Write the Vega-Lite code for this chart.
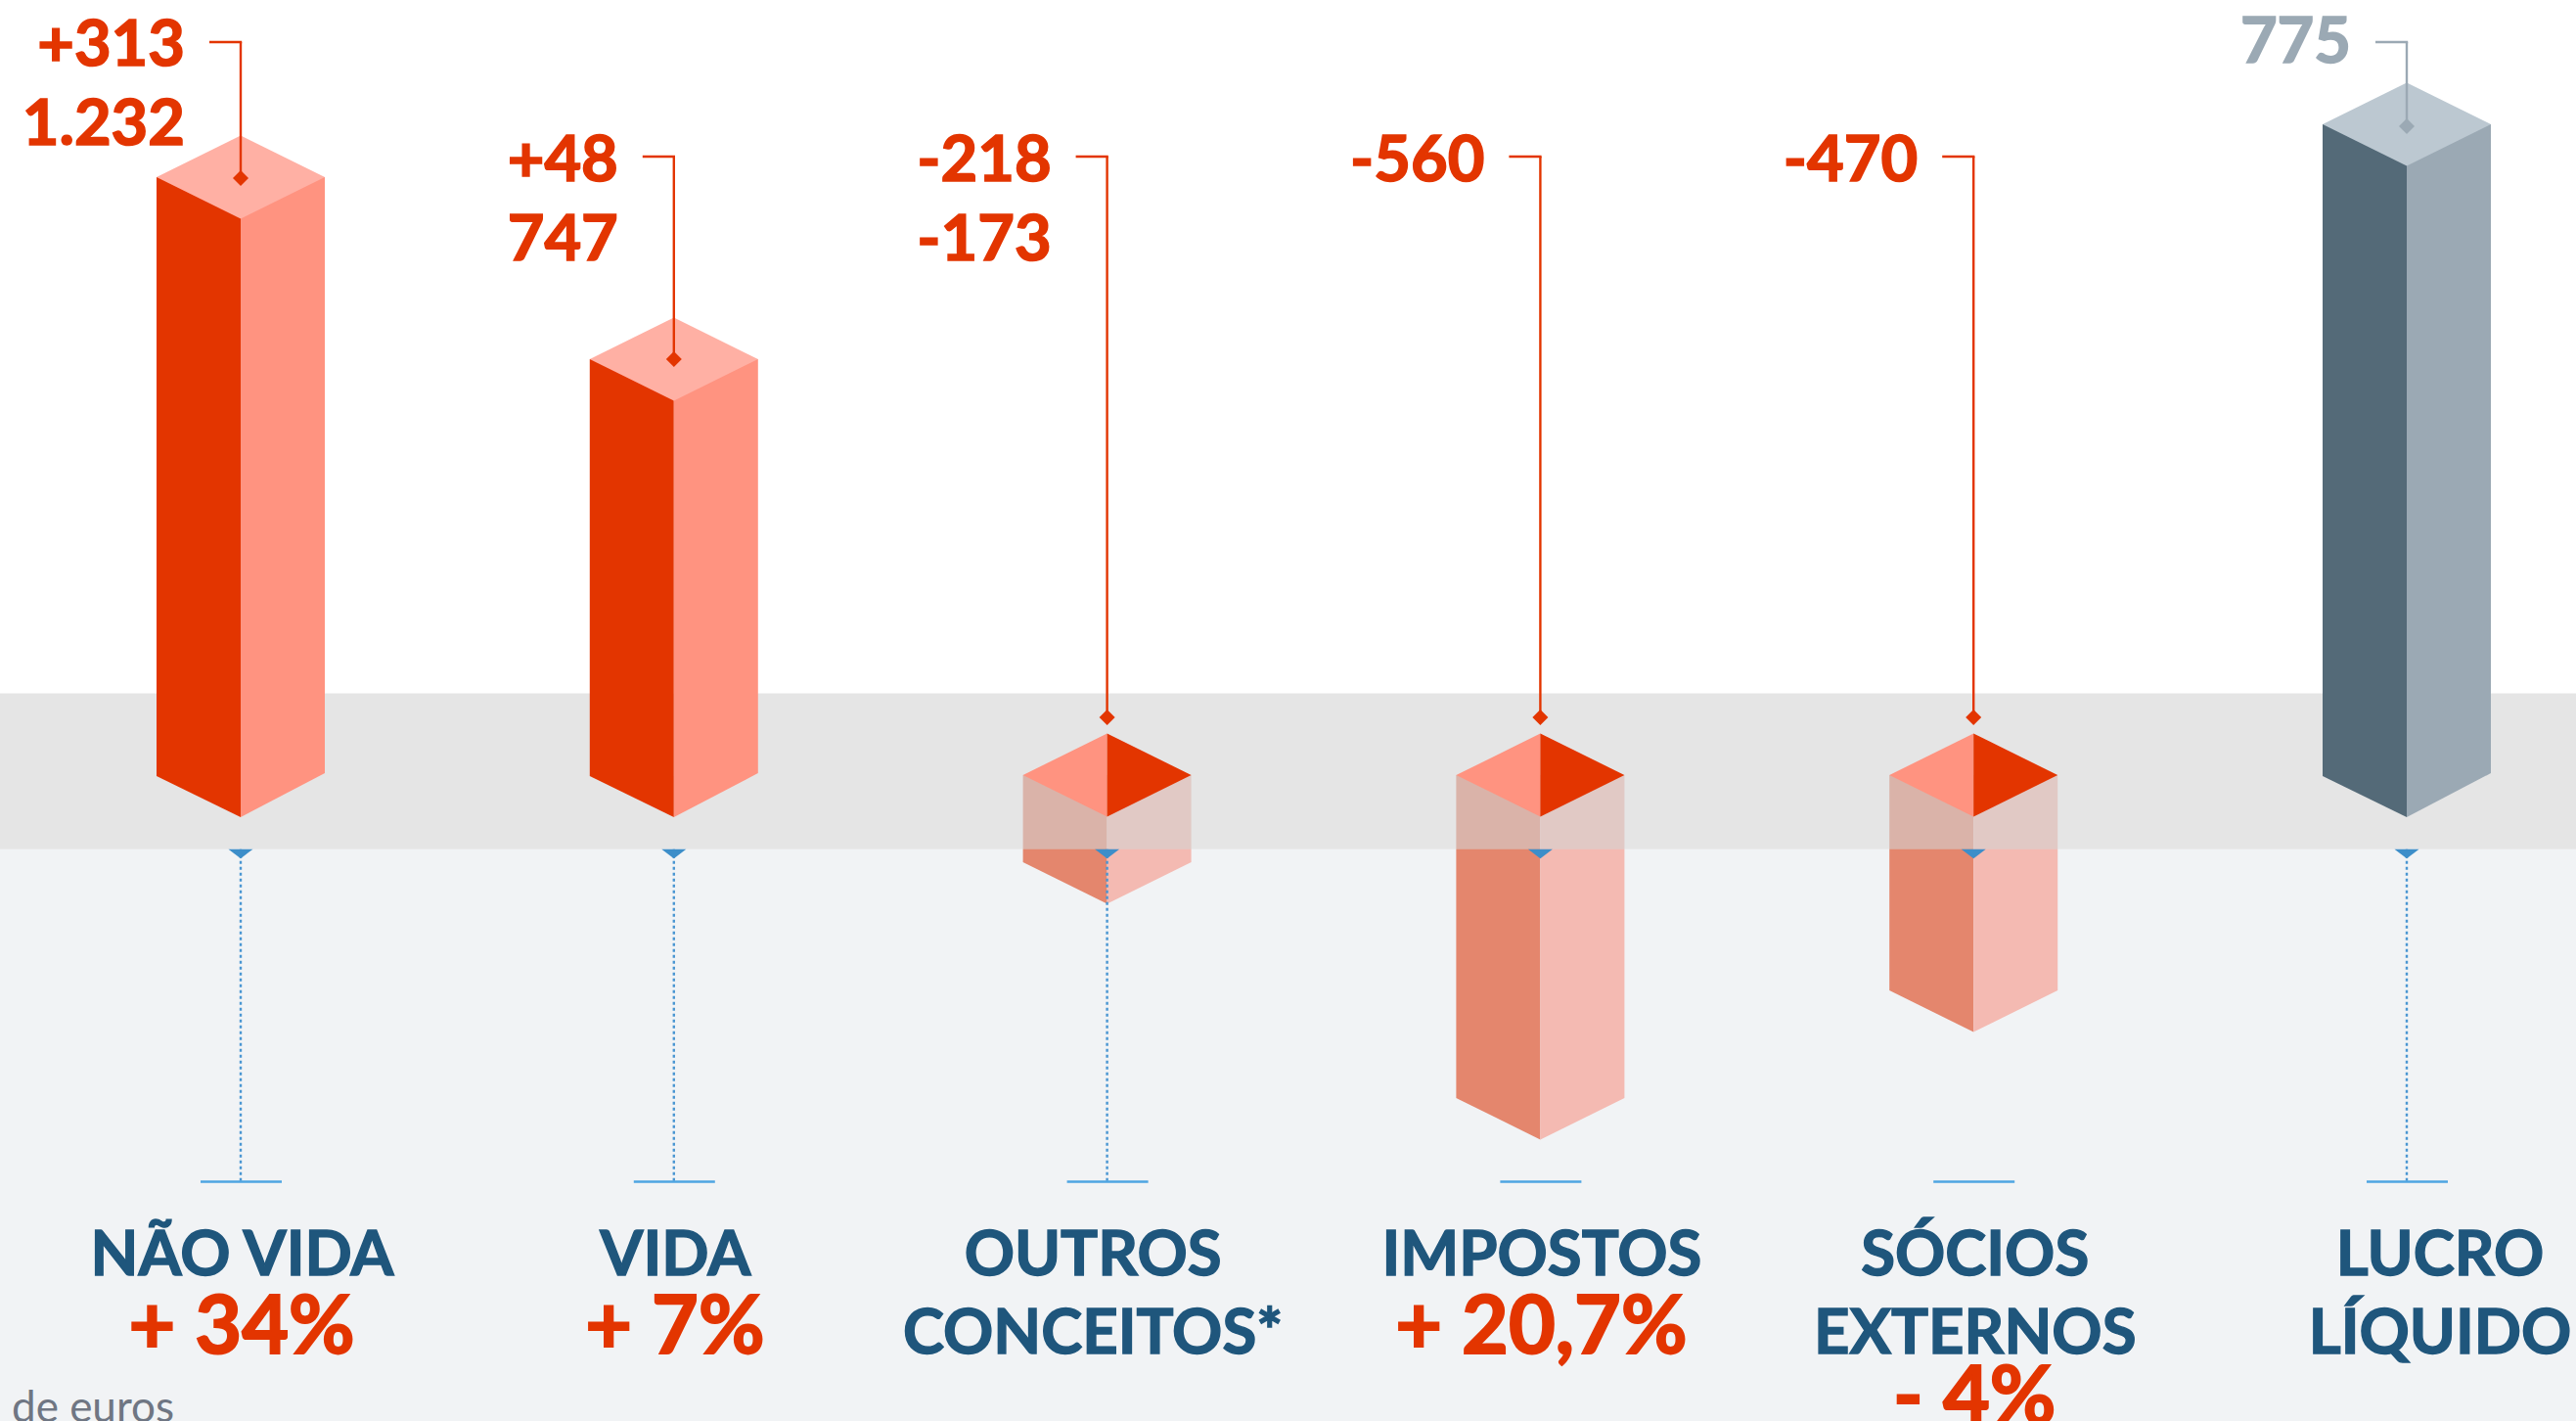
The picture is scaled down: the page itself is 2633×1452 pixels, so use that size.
{"$schema":"https://vega.github.io/schema/vega-lite/v6.json","width":2633,"height":1452,"padding":0,"autosize":{"type":"none"},"background":"#ffffff","view":{"stroke":null},"config":{"axis":{"disable":true},"font":"Lato"},
"datasets":{
"zonas":[{"zona":"inferior","de":-75.7,"ate":-660},{"zona":"faixa","de":83.4,"ate":-75.7}],
"barras":[
{"categoria":"NÃO VIDA","grupo":"ganho","tipo":"alta","topo":611,"base_esq":-1,"base_dir":2,"marcador":610,"chamada":749,"guia":true,"linha_base":-75.7,"linha_fim":-415.5},
{"categoria":"VIDA","grupo":"ganho","tipo":"alta","topo":425,"base_esq":-1,"base_dir":2,"marcador":425,"chamada":632,"guia":true,"linha_base":-75.7,"linha_fim":-415.5},
{"categoria":"OUTROS CONCEITOS*","grupo":"ajuste","tipo":"queda","topo":0,"base_esq":-89,"base_dir":-89,"marcador":59,"chamada":632,"guia":true,"linha_base":-75.7,"linha_fim":-415.5},
{"categoria":"IMPOSTOS","grupo":"ajuste","tipo":"queda","topo":0,"base_esq":-330,"base_dir":-330,"marcador":59,"chamada":632,"guia":false,"linha_base":-75.7,"linha_fim":-415.5},
{"categoria":"SÓCIOS EXTERNOS","grupo":"ajuste","tipo":"queda","topo":0,"base_esq":-220,"base_dir":-220,"marcador":59,"chamada":632,"guia":false,"linha_base":-75.7,"linha_fim":-415.5},
{"categoria":"LUCRO LÍQUIDO","grupo":"total","tipo":"alta","topo":665,"base_esq":-1,"base_dir":2,"marcador":663,"chamada":749,"guia":true,"linha_base":-75.7,"linha_fim":-415.5}],
"rotulos":[
{"categoria":"NÃO VIDA","classe":"valor","grupo":"ganho","texto":"+313","nivel":725},
{"categoria":"NÃO VIDA","classe":"valor","grupo":"ganho","texto":"1.232","nivel":644},
{"categoria":"VIDA","classe":"valor","grupo":"ganho","texto":"+48","nivel":607},
{"categoria":"VIDA","classe":"valor","grupo":"ganho","texto":"747","nivel":526},
{"categoria":"OUTROS CONCEITOS*","classe":"valor","grupo":"ajuste","texto":"-218","nivel":607},
{"categoria":"OUTROS CONCEITOS*","classe":"valor","grupo":"ajuste","texto":"-173","nivel":526},
{"categoria":"IMPOSTOS","classe":"valor","grupo":"ajuste","texto":"-560","nivel":607},
{"categoria":"SÓCIOS EXTERNOS","classe":"valor","grupo":"ajuste","texto":"-470","nivel":607},
{"categoria":"LUCRO LÍQUIDO","classe":"valor","grupo":"total","texto":"775","nivel":728},
{"categoria":"NÃO VIDA","classe":"nome","texto":"NÃO VIDA","nivel":-511},
{"categoria":"VIDA","classe":"nome","texto":"VIDA","nivel":-511},
{"categoria":"OUTROS CONCEITOS*","classe":"nome_esq","texto":"OUTROS","nivel":-511},
{"categoria":"OUTROS CONCEITOS*","classe":"nome_esq","texto":"CONCEITOS*","nivel":-591},
{"categoria":"IMPOSTOS","classe":"nome","texto":"IMPOSTOS","nivel":-511},
{"categoria":"SÓCIOS EXTERNOS","classe":"nome","texto":"SÓCIOS","nivel":-511},
{"categoria":"SÓCIOS EXTERNOS","classe":"nome","texto":"EXTERNOS","nivel":-591},
{"categoria":"LUCRO LÍQUIDO","classe":"nome_dir","texto":"LUCRO","nivel":-511},
{"categoria":"LUCRO LÍQUIDO","classe":"nome_dir","texto":"LÍQUIDO","nivel":-591},
{"categoria":"NÃO VIDA","classe":"variacao","texto":"+ 34%","nivel":-591},
{"categoria":"VIDA","classe":"variacao","texto":"+ 7%","nivel":-591},
{"categoria":"IMPOSTOS","classe":"variacao","texto":"+ 20,7%","nivel":-591},
{"categoria":"SÓCIOS EXTERNOS","classe":"variacao","texto":"- 4%","nivel":-663},
{"categoria":"NÃO VIDA","classe":"nota","texto":"de euros","nivel":-661}]
},
"layer":[
{"data":{"name":"zonas"},"transform":[{"filter":"datum.zona=='inferior'"}],"mark":{"type":"rect","color":"#f1f3f5"},"encoding":{"y":{"field":"de","type":"quantitative","scale":{"domain":[-660,792],"zero":false,"nice":false}},"y2":{"field":"ate"}}},
{"data":{"name":"barras"},"transform":[{"filter":"datum.tipo=='queda'"}],
 "encoding":{"x":{"field":"categoria","type":"nominal","scale":{"type":"point","domain":["NÃO VIDA","VIDA","OUTROS CONCEITOS*","IMPOSTOS","SÓCIOS EXTERNOS","LUCRO LÍQUIDO"],"range":[246,2460],"padding":0}}},
 "layer":[
 {"mark":{"type":"bar","width":86,"xOffset":-43,"color":"#e4866d"},"encoding":{"y":{"field":"topo","type":"quantitative"},"y2":{"field":"base_esq"}}},
 {"mark":{"type":"bar","width":86,"xOffset":43,"color":"#f4bab2"},"encoding":{"y":{"field":"topo","type":"quantitative"},"y2":{"field":"base_dir"}}},
 {"mark":{"type":"point","filled":true,"opacity":1,"strokeWidth":0,"size":4,"shape":"M-86,0L0,42.5L0,0Z","color":"#e4866d"},"encoding":{"y":{"field":"base_esq","type":"quantitative"}}},
 {"mark":{"type":"point","filled":true,"opacity":1,"strokeWidth":0,"size":4,"shape":"M0,0L86,0L0,42.5Z","color":"#f4bab2"},"encoding":{"y":{"field":"base_dir","type":"quantitative"}}}
 ]},
{"data":{"name":"zonas"},"transform":[{"filter":"datum.zona=='faixa'"}],"mark":{"type":"rect","color":"#d3d3d3","opacity":0.587},"encoding":{"y":{"field":"de","type":"quantitative"},"y2":{"field":"ate"}}},
{"data":{"name":"barras"},
 "encoding":{"x":{"field":"categoria","type":"nominal"}},
 "layer":[
 {"transform":[{"filter":"datum.tipo=='alta'"}],"mark":{"type":"bar","width":86,"xOffset":-43},"encoding":{"y":{"field":"topo","type":"quantitative"},"y2":{"field":"base_esq"},"color":{"condition":{"test":"datum.grupo=='total'","value":"#546a78"},"value":"#e33500"}}},
 {"transform":[{"filter":"datum.tipo=='alta'"}],"mark":{"type":"bar","width":86,"xOffset":43},"encoding":{"y":{"field":"topo","type":"quantitative"},"y2":{"field":"base_dir"},"color":{"condition":{"test":"datum.grupo=='total'","value":"#9ba9b4"},"value":"#ff9380"}}},
 {"transform":[{"filter":"datum.tipo=='alta'"}],"mark":{"type":"point","filled":true,"opacity":1,"strokeWidth":0,"size":4,"shape":"M-86,0L0,42L0,0Z"},"encoding":{"y":{"field":"base_esq","type":"quantitative"},"color":{"condition":{"test":"datum.grupo=='total'","value":"#546a78"},"value":"#e33500"}}},
 {"transform":[{"filter":"datum.tipo=='alta'"}],"mark":{"type":"point","filled":true,"opacity":1,"strokeWidth":0,"size":4,"shape":"M0,0L86,0L0,45Z"},"encoding":{"y":{"field":"base_dir","type":"quantitative"},"color":{"condition":{"test":"datum.grupo=='total'","value":"#9ba9b4"},"value":"#ff9380"}}},
 {"transform":[{"filter":"datum.tipo=='alta'"}],"mark":{"type":"point","filled":true,"opacity":1,"strokeWidth":0,"size":4,"shape":"M-86,0L0,-42.5L86,0L0,42.5Z"},"encoding":{"y":{"field":"topo","type":"quantitative"},"color":{"condition":{"test":"datum.grupo=='total'","value":"#bcc8d1"},"value":"#ffb0a4"}}},
 {"transform":[{"filter":"datum.tipo=='queda'"}],"mark":{"type":"point","filled":true,"opacity":1,"strokeWidth":0,"size":4,"shape":"M-86,0L0,-42.5L0,42.5Z","color":"#ff9380"},"encoding":{"y":{"field":"topo","type":"quantitative"}}},
 {"transform":[{"filter":"datum.tipo=='queda'"}],"mark":{"type":"point","filled":true,"opacity":1,"strokeWidth":0,"size":4,"shape":"M0,-42.5L86,0L0,42.5Z","color":"#e33500"},"encoding":{"y":{"field":"topo","type":"quantitative"}}},
 {"mark":{"type":"rule","strokeWidth":2.4},"encoding":{"y":{"field":"chamada","type":"quantitative"},"y2":{"field":"marcador"},"color":{"condition":{"test":"datum.grupo=='total'","value":"#9ba9b4"},"value":"#e33500"}}},
 {"mark":{"type":"point","filled":true,"opacity":1,"strokeWidth":0,"size":4,"shape":"M-32,-1.2L1.2,-1.2L1.2,1.2L-32,1.2Z"},"encoding":{"y":{"field":"chamada","type":"quantitative"},"color":{"condition":{"test":"datum.grupo=='total'","value":"#9ba9b4"},"value":"#e33500"}}},
 {"mark":{"type":"point","filled":true,"opacity":1,"strokeWidth":0,"size":4,"shape":"M-8,0L0,-8L8,0L0,8Z"},"encoding":{"y":{"field":"marcador","type":"quantitative"},"color":{"condition":{"test":"datum.grupo=='total'","value":"#9ba9b4"},"value":"#e33500"}}},
 {"transform":[{"filter":"datum.guia"}],"mark":{"type":"rule","strokeWidth":2.4,"strokeDash":[3,3],"color":"#4a96d2"},"encoding":{"y":{"field":"linha_base","type":"quantitative"},"y2":{"field":"linha_fim"}}},
 {"mark":{"type":"point","filled":true,"opacity":1,"strokeWidth":0,"size":4,"shape":"M-12.5,0L12.5,0L0,9.5Z","color":"#3d8ec9"},"encoding":{"y":{"field":"linha_base","type":"quantitative"}}},
 {"mark":{"type":"point","filled":true,"opacity":1,"strokeWidth":0,"size":4,"shape":"M-41,-1.3L42,-1.3L42,1.3L-41,1.3Z","color":"#4ea5e2"},"encoding":{"y":{"field":"linha_fim","type":"quantitative"}}}
 ]},
{"data":{"name":"rotulos"},
 "encoding":{"x":{"field":"categoria","type":"nominal"},"y":{"field":"nivel","type":"quantitative"},"text":{"field":"texto"}},
 "layer":[
 {"transform":[{"filter":"datum.classe=='valor'"}],"mark":{"type":"text","font":"Lato","fontWeight":"bold","fontSize":65,"align":"right","baseline":"alphabetic","dx":-57,"strokeWidth":1.6},"encoding":{"color":{"condition":{"test":"datum.grupo=='total'","value":"#9ba9b4"},"value":"#e33500"},"stroke":{"condition":{"test":"datum.grupo=='total'","value":"#9ba9b4"},"value":"#e33500"}}},
 {"transform":[{"filter":"datum.classe=='nome'"}],"mark":{"type":"text","font":"Lato","fontWeight":"bold","fontSize":63.5,"align":"center","baseline":"alphabetic","dx":1.5,"color":"#1f567c","stroke":"#1f567c","strokeWidth":1.4}},
 {"transform":[{"filter":"datum.classe=='nome_esq'"}],"mark":{"type":"text","font":"Lato","fontWeight":"bold","fontSize":63.5,"align":"center","baseline":"alphabetic","dx":-14.5,"color":"#1f567c","stroke":"#1f567c","strokeWidth":1.4}},
 {"transform":[{"filter":"datum.classe=='nome_dir'"}],"mark":{"type":"text","font":"Lato","fontWeight":"bold","fontSize":63.5,"align":"center","baseline":"alphabetic","dx":34,"color":"#1f567c","stroke":"#1f567c","strokeWidth":1.4}},
 {"transform":[{"filter":"datum.classe=='variacao'"}],"mark":{"type":"text","font":"Lato","fontWeight":"bold","fontSize":82.5,"align":"center","baseline":"alphabetic","dx":1,"color":"#e33500","stroke":"#e33500","strokeWidth":2}},
 {"transform":[{"filter":"datum.classe=='nota'"}],"mark":{"type":"text","font":"Lato","fontSize":44,"align":"left","baseline":"alphabetic","dx":-234,"color":"#6f7683"}}
 ]}
]}
